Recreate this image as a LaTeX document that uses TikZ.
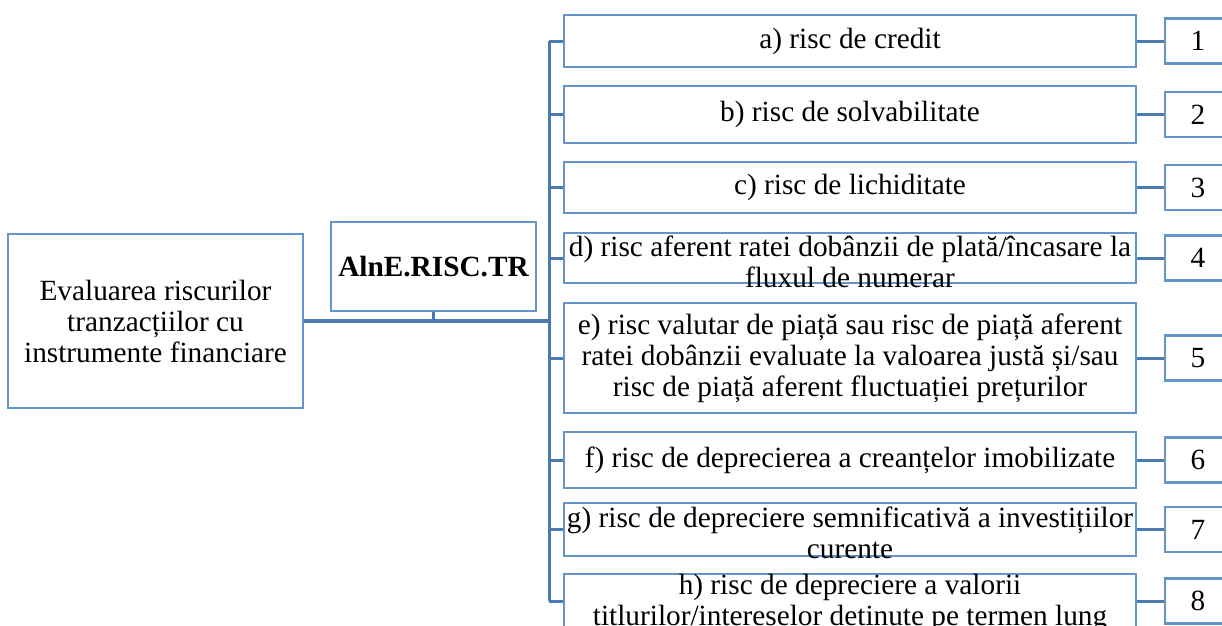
\documentclass[tikz,border=0pt]{standalone}
\usepackage{fontspec}
\setmainfont{Liberation Serif}
\usetikzlibrary{positioning}
\definecolor{boxBlue}{HTML}{6494CA}
\definecolor{linkBlue}{HTML}{4A7BB0}

\begin{document}
\begin{tikzpicture}[x=1pt, y=-1pt,
    font=\fontsize{29.3}{31}\selectfont,
    riskbox/.style={draw=boxBlue, line width=2.5pt, inner sep=0pt, minimum width=572pt, align=center},
    numbox/.style={draw=boxBlue, line width=2.5pt, inner sep=0pt, minimum width=66pt, minimum height=45pt},
    rtext/.style={inner sep=0pt, align=center},
    link/.style={draw=linkBlue, line width=3pt}]
        \useasboundingbox (0,0) rectangle (1222,625);
        \fill[white] (0,0) rectangle (1222,625);
        \clip (0,0) rectangle (1222,625);
        % left side
        \node[draw=boxBlue, line width=2.5pt, minimum width=295pt, minimum height=174pt, align=center] (eval) at (155.5,321)
            {Evaluarea riscurilor\\tranzacțiilor cu\\instrumente financiare};
        \node[draw=boxBlue, line width=2.5pt, minimum width=205pt, minimum height=89pt, font=\fontsize{29.3}{31}\selectfont\bfseries] (alne) at (433.5,266.5) {AlnE.RISC.TR};
        % risk boxes
        \node[riskbox, minimum height=52pt] (ra) at (850,41) {a) risc de credit};
        \node[riskbox, minimum height=57pt] (rb) at (850,114.5) {b) risc de solvabilitate};
        \node[riskbox, minimum height=51pt] (rc) at (850,187.5) {c) risc de lichiditate};
        \node[riskbox, minimum height=50pt] (rd) at (850,258) {};
        \node[rtext] (td) at ([yshift=-4pt]rd.center) {d) risc aferent ratei dobânzii de plată/încasare la\\fluxul de numerar};
        \node[riskbox, minimum height=110pt] (re) at (850,358)
            {e) risc valutar de piață sau risc de piață aferent\\ratei dobânzii evaluate la valoarea justă și/sau\\risc de piață aferent fluctuației prețurilor};
        \node[riskbox, minimum height=56pt] (rf) at (850,460) {f) risc de deprecierea a creanțelor imobilizate};
        \node[riskbox, minimum height=53pt] (rg) at (850,529.5) {};
        \node[rtext] (tg) at ([yshift=-3pt]rg.center) {g) risc de depreciere semnificativă a investițiilor\\curente};
        \node[riskbox, minimum height=54pt] (rh) at (850,601) {};
        \node[rtext] (th) at ([yshift=-2pt]rh.center) {h) risc de depreciere a valorii\\titlurilor/intereselor deținute pe termen lung};
        % number boxes
        \node[numbox] (n1) at (1198,41) {1};
        \node[numbox] (n2) at (1198,114.5) {2};
        \node[numbox] (n3) at (1198,187.5) {3};
        \node[numbox] (n4) at (1198,258) {4};
        \node[numbox] (n5) at (1198,358) {5};
        \node[numbox] (n6) at (1198,460) {6};
        \node[numbox] (n7) at (1198,529.5) {7};
        \node[numbox] (n8) at (1198,601) {8};
        % connectors
        \coordinate (bus) at (549,0);
        \draw[link, line width=4pt] (eval.east) -- (eval.east -| bus);
        \draw[link] (alne.south) -- (alne.south |- eval.east);
        \draw[link] (ra.west -| bus) -- (rh.west -| bus);
        \draw[link] (ra.west -| bus) -- (ra.west);
        \draw[link] (rb.west -| bus) -- (rb.west);
        \draw[link] (rc.west -| bus) -- (rc.west);
        \draw[link] (rd.west -| bus) -- (rd.west);
        \draw[link] (re.west -| bus) -- (re.west);
        \draw[link] (rf.west -| bus) -- (rf.west);
        \draw[link] (rg.west -| bus) -- (rg.west);
        \draw[link] (rh.west -| bus) -- (rh.west);
        \draw[link] (ra.east) -- (n1.west);
        \draw[link] (rb.east) -- (n2.west);
        \draw[link] (rc.east) -- (n3.west);
        \draw[link] (rd.east) -- (n4.west);
        \draw[link] (re.east) -- (n5.west);
        \draw[link] (rf.east) -- (n6.west);
        \draw[link] (rg.east) -- (n7.west);
        \draw[link] (rh.east) -- (n8.west);
\end{tikzpicture}
\end{document}
